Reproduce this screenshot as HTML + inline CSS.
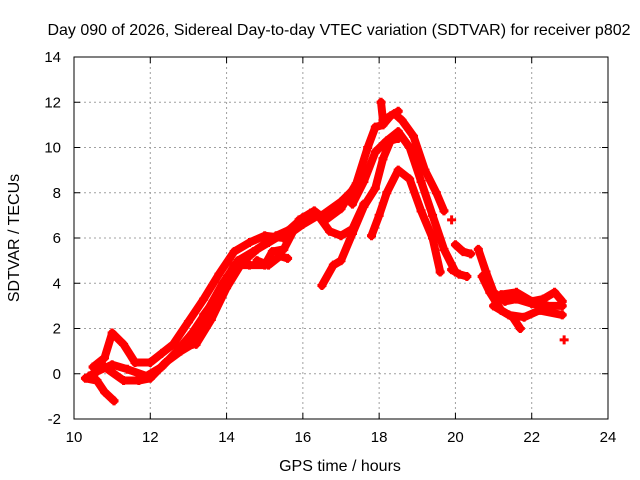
<!DOCTYPE html>
<html><head><meta charset="utf-8"><style>
body{margin:0;background:#fff}
svg{display:block;font-family:"Liberation Sans",sans-serif}
</style></head><body>
<svg id="chart" width="640" height="480" xmlns="http://www.w3.org/2000/svg">
<text x="339" y="35" font-size="16" text-anchor="middle">Day 090 of 2026, Sidereal Day-to-day VTEC variation (SDTVAR) for receiver p802</text>
<text x="340" y="471" font-size="16" text-anchor="middle">GPS time / hours</text>
<text transform="translate(19,238) rotate(-90)" font-size="16" text-anchor="middle">SDTVAR / TECUs</text>
<g id="grid"></g>
<g id="ticks"></g>
<g id="marks"></g>
<rect x="74" y="57" width="534" height="362" fill="none" stroke="#000" stroke-width="1"/>
</svg>
<script>
const xTicks=[10,12,14,16,18,20,22,24];
const yTicks=[-2,0,2,4,6,8,10,12,14];
const seriesA=[[18.05,12],[18.1,11.2],[18.4,11.5],[18.6,11.2],[18.9,10.5],[19.2,9.0],[19.5,8.0],[19.7,7.2]];
const seriesB=[[17.3,7.5],[17.6,8.5],[17.9,9.8],[18.2,10.3],[18.5,10.7],[18.8,10.0],[19.1,8.5],[19.4,7.0],[19.7,5.5],[20.0,4.5]];
const seriesC=[[16.5,3.9],[16.8,4.8],[17.0,5.0],[17.3,6.2],[17.6,7.4],[17.9,8.2],[18.1,9.5],[18.3,10.3],[18.5,10.4]];
const seriesD=[[17.8,6.1],[18.0,7.0],[18.2,8.0],[18.5,9.0],[18.8,8.6],[19.1,7.2],[19.4,6.0],[19.6,4.5]];
const seriesE=[[10.5,0.3],[10.8,0.7],[11.0,1.8],[11.3,1.3],[11.6,0.5],[12.0,0.5],[12.3,0.9],[12.6,1.3],[13.0,2.3],[13.4,3.3],[13.8,4.4],[14.2,5.4],[14.6,5.8],[15.0,6.1],[15.5,6.0],[16.0,6.6],[16.4,7.0],[16.7,6.3],[17.0,6.1],[17.3,6.4],[17.6,7.5]];
const seriesF=[[10.3,-0.2],[10.6,-0.3],[10.8,-0.8],[11.05,-1.2]];
const seriesG=[[10.4,-0.1],[10.8,0.3],[11.3,-0.3],[11.7,-0.3],[12.0,-0.2],[12.4,0.5],[12.8,1.0],[13.1,1.3],[13.4,2.6],[13.8,3.5],[14.2,4.8],[14.6,4.8],[15.0,4.8],[15.2,5.4],[15.5,5.5],[15.9,6.8],[16.3,7.2],[16.6,6.8],[17.0,7.3],[17.4,8.4],[17.7,10.0],[17.9,10.9],[18.1,11.0],[18.3,11.4],[18.5,11.6]];
const seriesH=[[13.0,1.3],[13.4,2.2],[13.8,3.3],[14.2,4.6]];
const seriesR=[[10.6,0.1],[11.0,0.4],[11.4,0.2],[11.9,-0.1],[12.3,0.3],[12.7,1.0],[13.1,1.8],[13.5,2.8],[13.9,4.0],[14.3,5.0],[14.7,5.4],[15.1,5.8],[15.6,6.3],[16.0,6.9],[16.5,7.0],[17.0,7.6],[17.3,8.1]];
const seriesS=[[13.2,1.3],[13.6,2.4],[14.0,3.8],[14.4,4.9],[14.8,5.5],[15.3,6.1],[15.7,6.4],[16.2,7.1]];
const seriesT=[[14.8,5.0],[15.1,4.8],[15.4,5.2],[15.6,5.1]];
const seriesI=[[20.6,5.5],[20.8,4.5],[21.0,3.6],[21.3,3.2],[21.6,3.3],[22.0,3.1],[22.4,3.0],[22.8,3.0]];
const seriesJ=[[20.7,4.3],[20.9,3.6],[21.2,2.8],[21.5,2.5],[21.7,2.0]];
const seriesK=[[21.2,3.5],[21.6,3.6],[22.0,3.2],[22.3,3.3],[22.6,3.6],[22.8,3.2]];
const seriesL=[[21.0,3.0],[21.4,2.6],[21.8,2.5],[22.2,2.8],[22.8,2.6]];
const seriesM=[[20.0,5.7],[20.2,5.4],[20.4,5.3]];
const seriesN=[[19.9,4.6],[20.1,4.4],[20.3,4.3]];
const seriesP=[[22.85,1.5]];
const seriesQ=[[19.9,6.8]];
const allSeries=[seriesA,seriesB,seriesC,seriesD,seriesE,seriesF,seriesG,seriesH,seriesR,seriesS,seriesT,seriesI,seriesJ,seriesK,seriesL,seriesM,seriesN,seriesP,seriesQ];
const X0=74,X1=608,Y0=419,Y1=57;
const sx=v=>X0+(v-10)/14*(X1-X0);
const sy=v=>Y0-(v+2)/16*(Y0-Y1);
const NS="http://www.w3.org/2000/svg";
const grid=document.getElementById('grid'),ticks=document.getElementById('ticks'),marks=document.getElementById('marks');
function mk(t,a,p){const e=document.createElementNS(NS,t);for(const k in a)e.setAttribute(k,a[k]);p.appendChild(e);return e;}
xTicks.forEach(v=>{const x=sx(v);
 if(v>10&&v<24){const l=mk('line',{x1:x,x2:x,y1:Y1,y2:Y0,stroke:'#a0a0a0','stroke-dasharray':'2,3'},grid);}
 mk('line',{x1:x,x2:x,y1:Y0,y2:Y0-6,stroke:'#000'},ticks);mk('line',{x1:x,x2:x,y1:Y1,y2:Y1+6,stroke:'#000'},ticks);
 const t=mk('text',{x:x,y:Y0+23,'font-size':15,'text-anchor':'middle'},ticks);t.textContent=v;
 });
yTicks.forEach(v=>{const y=sy(v);
 if(v>-2&&v<14){const l=mk('line',{x1:X0,x2:X1,y1:y,y2:y,stroke:'#a0a0a0','stroke-dasharray':'2,3'},grid);}
 mk('line',{x1:X0,x2:X0+6,y1:y,y2:y,stroke:'#000'},ticks);mk('line',{x1:X1,x2:X1-6,y1:y,y2:y,stroke:'#000'},ticks);
 const t=mk('text',{x:X0-13,y:y+5,'font-size':15,'text-anchor':'end'},ticks);t.textContent=v;
 });
allSeries.forEach((s,i)=>{
 const g=mk('g',{},marks);
 
 
 if(s.length>1){const pl=mk('polyline',{points:s.map(p=>sx(p[0])+','+sy(p[1])).join(' '),fill:'none',stroke:'#f00','stroke-width':8,'stroke-linejoin':'round','stroke-linecap':'round'},g);
  }
 s.forEach(p=>{const x=sx(p[0]),y=sy(p[1]);
  const m=mk('path',{d:`M${x-4.5},${y}h9M${x},${y-4.5}v9`,stroke:'#f00','stroke-width':3},g);
  });
});
</script>
</body></html>
